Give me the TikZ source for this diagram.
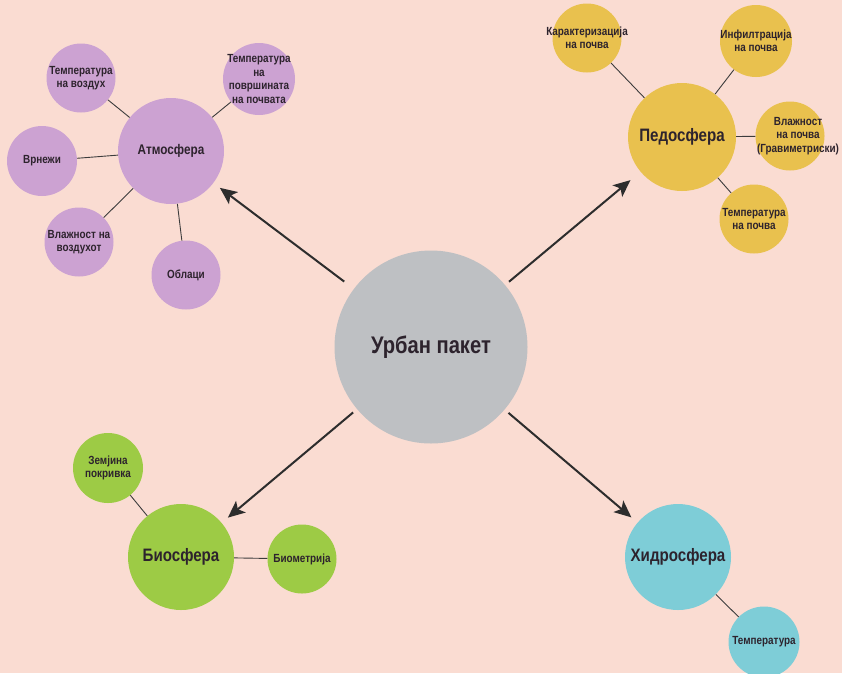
\documentclass[tikz,border=0pt]{standalone}
\usepackage{fontspec}
\setmainfont{Liberation Sans}[FakeStretch=0.84]
\usetikzlibrary{arrows.meta}
\definecolor{bgc}{RGB}{250,220,210}
\definecolor{atmc}{RGB}{204,162,210}
\definecolor{pedc}{RGB}{233,193,78}
\definecolor{bioc}{RGB}{157,203,69}
\definecolor{hydc}{RGB}{126,205,215}
\definecolor{cenc}{RGB}{190,192,195}
\definecolor{txtc}{RGB}{45,35,45}
\definecolor{linec}{RGB}{60,60,60}
\definecolor{arrc}{RGB}{45,45,45}
\begin{document}
\begin{tikzpicture}[x=1pt,y=-1pt,
  bubble/.style={circle, inner sep=0pt, text=txtc, align=center},
  big/.style={bubble, minimum size=106pt, font=\bfseries\fontsize{18}{20}\selectfont},
  small/.style={bubble, minimum size=69pt},
  lbl/.style={font=\bfseries\fontsize{11.8}{13.5}\selectfont, text=txtc, align=center},
  link/.style={draw=linec, line width=0.9pt},
  arr/.style={draw=arrc, line width=2pt, -{Stealth[length=17pt,width=15pt,inset=4pt]}, shorten <=5pt, shorten >=8pt}]
\fill[bgc] (0,0) rectangle (842,673);
\useasboundingbox (0,0) rectangle (842,673);

% centre
\node[bubble, fill=cenc, minimum size=193pt, font=\bfseries\fontsize{24}{27}\selectfont] (c) at (431,347) {Урбан пакет};

% atmosphere
\node[big, fill=atmc, font=\bfseries\fontsize{14}{17}\selectfont] (atm) at (171,151) {Атмосфера};
\node[small, fill=atmc, label={[lbl]center:Температура\\на воздух}] (a1) at (81,78) {};
\node[small, fill=atmc, minimum size=72pt, label={[lbl]center:Температура\\на\\површината\\на почвата}] (a2) at (259,79) {};
\node[small, fill=atmc, minimum size=70pt, label={[lbl]center:Врнежи}] (a3) at (42,161) {};
\node[small, fill=atmc, label={[lbl]center:Влажност на\\воздухот}] (a4) at (79,242) {};
\node[small, fill=atmc, label={[lbl]center:Облаци}] (a5) at (186,275) {};

% pedosphere
\node[big, fill=pedc, minimum size=108pt] (ped) at (682,137) {Педосфера};
\node[small, fill=pedc, label={[lbl]center:Карактеризација\\на почва}] (p1) at (587,38) {};
\node[small, fill=pedc, minimum size=72pt, label={[lbl]center:Инфилтрација\\на почва}] (p2) at (756,41) {};
\node[small, fill=pedc, label={[lbl,xshift=8pt]center:Влажност\\на почва\\(Гравиметриски)}] (p3) at (790,136) {};
\node[small, fill=pedc, label={[lbl]center:Температура\\на почва}] (p4) at (754,219) {};

% biosphere
\node[big, fill=bioc] (bio) at (181,557) {Биосфера};
\node[small, fill=bioc, minimum size=70pt, label={[lbl]center:Земјина\\покривка}] (b1) at (108,468) {};
\node[small, fill=bioc, label={[lbl]center:Биометрија}] (b2) at (302,559) {};

% hydrosphere
\node[big, fill=hydc] (hyd) at (678,557) {Хидросфера};
\node[small, fill=hydc, minimum size=71pt, label={[lbl]center:Температура}] (h1) at (764,642) {};

% links
\draw[link] (atm) -- (a1);
\draw[link] (atm) -- (a2);
\draw[link] (atm) -- (a3);
\draw[link] (atm) -- (a4);
\draw[link] (atm) -- (a5);
\draw[link] (ped) -- (p1);
\draw[link] (ped) -- (p2);
\draw[link] (ped) -- (p3);
\draw[link] (ped) -- (p4);
\draw[link] (bio) -- (b1);
\draw[link] (bio) -- (b2);
\draw[link] (hyd) -- (h1);

% arrows
\draw[arr, shorten <=12pt] (c) -- (atm);
\draw[arr, shorten >=13pt] (c) -- (ped);
\draw[arr] (c) -- (bio);
\draw[arr] (c) -- (hyd);
\end{tikzpicture}
\end{document}
